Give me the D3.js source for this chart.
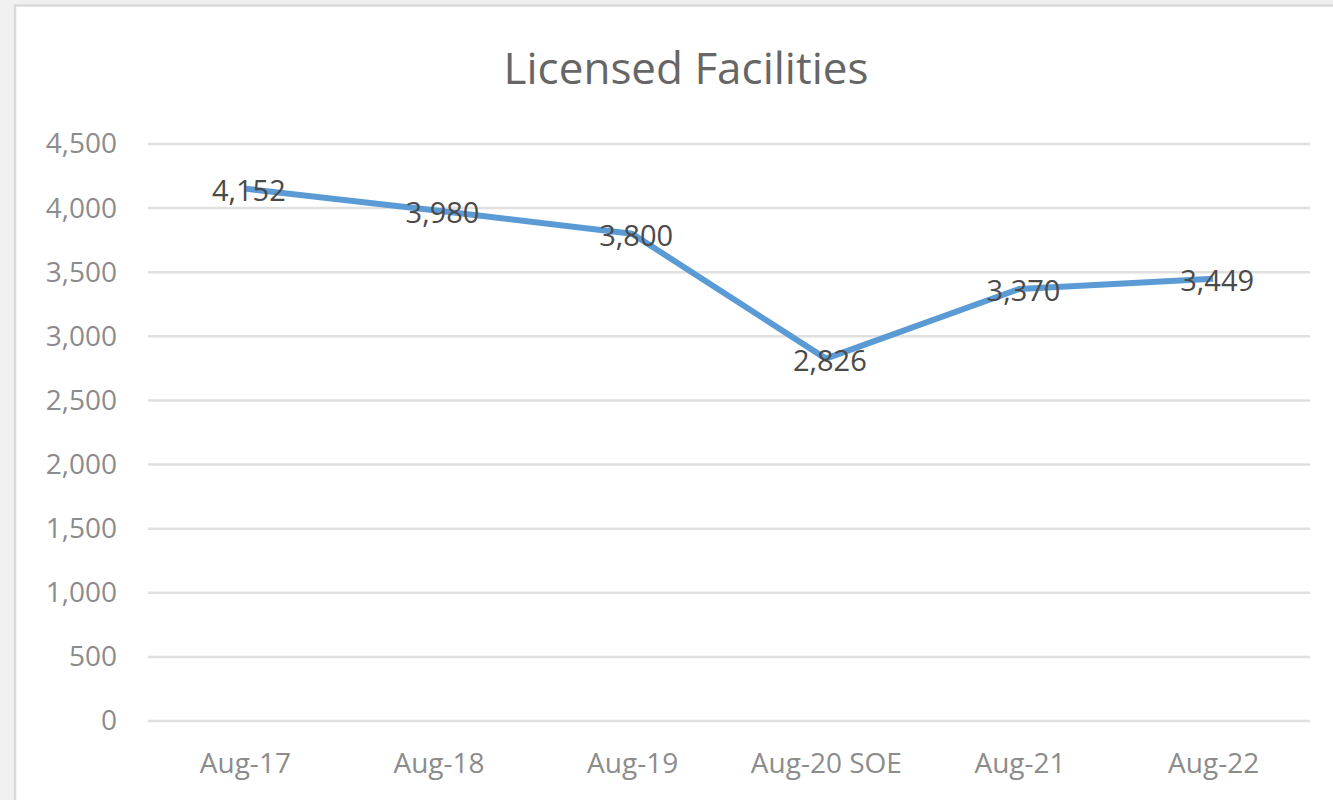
<!DOCTYPE html>
<html>
<head>
<meta charset="utf-8">
<script src="https://cdn.jsdelivr.net/npm/d3@7"></script>
<style>
  body { margin: 0; background: #f0f0f0; }
  svg { display: block; }
  text { font-family: "Open Sans", sans-serif; }
</style>
</head>
<body>
<div id="graf"></div>
<script>
// Datos
const categories = ["Aug-17", "Aug-18", "Aug-19", "Aug-20 SOE", "Aug-21", "Aug-22"]
const facilities = [4152, 3980, 3800, 2826, 3370, 3449]
const yTicks = [0, 500, 1000, 1500, 2000, 2500, 3000, 3500, 4000, 4500]
const title = "Licensed Facilities"

const draw = () => {
  const anchoTotal = 1333
  const altoTotal = 800

  const margins = { top: 144, right: 23, bottom: 79, left: 148 }
  const ancho = anchoTotal - margins.left - margins.right
  const alto = altoTotal - margins.top - margins.bottom

  const svg = d3.select("#graf")
    .append("svg")
    .attr("width", anchoTotal)
    .attr("height", altoTotal)

  // Marco del grafico
  svg.append("rect")
    .attr("x", 15)
    .attr("y", 5.5)
    .attr("width", anchoTotal)
    .attr("height", altoTotal)
    .attr("fill", "white")
    .attr("stroke", "#d9d9d9")
    .attr("stroke-width", 2.5)

  const g = svg.append("g")
    .attr("transform", `translate(${margins.left}, ${margins.top})`)

  // Escalas
  const x = d3.scalePoint()
    .domain(categories)
    .range([0, ancho])
    .padding(0.5)

  const y = d3.scaleLinear()
    .domain([0, 4500])
    .range([alto, 0])

  // Rejilla
  g.selectAll(".grid")
    .data(yTicks)
    .join("line")
    .attr("class", "grid")
    .attr("x1", 0)
    .attr("x2", ancho)
    .attr("y1", d => y(d))
    .attr("y2", d => y(d))
    .attr("stroke", "#e0e0e0")
    .attr("stroke-width", 2.5)

  // Eje Y
  const yAxis = g.append("g")
    .call(d3.axisLeft(y).tickValues(yTicks).tickFormat(d3.format(",")).tickSize(0).tickPadding(31))
  yAxis.select(".domain").remove()
  yAxis.selectAll("text")
    .attr("fill", "#8c8c8c")
    .style("font-size", "28px")
    .style("font-family", "Open Sans, sans-serif")

  // Eje X
  const xAxis = g.append("g")
    .attr("transform", `translate(0, ${alto})`)
    .call(d3.axisBottom(x).tickSize(0).tickPadding(32))
  xAxis.select(".domain").remove()
  xAxis.selectAll("text")
    .attr("fill", "#8c8c8c")
    .style("font-size", "28px")
    .style("font-family", "Open Sans, sans-serif")

  // Linea
  const line = d3.line()
    .x((d, i) => x(categories[i]))
    .y(d => y(d))

  g.append("path")
    .datum(facilities)
    .attr("d", line)
    .attr("fill", "none")
    .attr("stroke", "#5b9bd5")
    .attr("stroke-width", 6)
    .attr("stroke-linejoin", "round")

  // Etiquetas de datos
  g.selectAll(".label")
    .data(facilities)
    .join("text")
    .attr("class", "label")
    .attr("x", (d, i) => x(categories[i]) + 4)
    .attr("y", d => y(d) + 2)
    .attr("dy", "0.35em")
    .attr("text-anchor", "middle")
    .attr("fill", "#4a4a4a")
    .style("font-size", "29px")
    .text(d => d3.format(",")(d))

  // Titulo
  svg.append("text")
    .attr("x", 686)
    .attr("y", 84)
    .attr("text-anchor", "middle")
    .attr("fill", "#666")
    .style("font-size", "44px")
    .text(title)
}

draw()
</script>
</body>
</html>
